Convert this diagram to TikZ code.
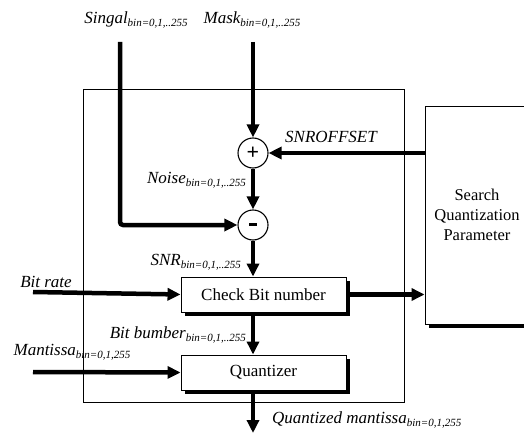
\documentclass[tikz,border=0pt]{standalone}
\usepackage{fontspec}
\setmainfont{Liberation Serif}
\usetikzlibrary{arrows.meta,shadows}
\newcommand{\lbl}[2]{{\fontsize{17}{17}\selectfont\itshape #1\raisebox{-0.35ex}{\fontsize{11}{11}\selectfont\itshape #2}}}
\begin{document}
\begin{tikzpicture}[x=1pt,y=-1pt,
  flow/.style={line width=4.5pt,-{Triangle[length=13pt,width=12pt]}},
  frame/.style={draw,line width=0.9pt},
  blockbox/.style={draw,fill=white,line width=0.9pt,font=\fontsize{17}{17}\selectfont,
    drop shadow={shadow xshift=3.5pt,shadow yshift=-3.5pt,opacity=1,fill=black}},
  sumnode/.style={circle,draw,fill=white,line width=1.1pt,minimum size=30pt,inner sep=0pt},
  lab/.style={inner sep=0pt}]
\useasboundingbox (0,0) rectangle (524,433);
% outer frame
\node[frame,minimum width=321pt,minimum height=313pt,inner sep=0pt] (outer) at (243.5,245.5) {};
% search box
\node[blockbox,minimum width=104pt,minimum height=218pt,inner sep=0pt,align=center,
  font=\fontsize{16.5}{20}\selectfont] (search) at (477,215) {Search\\Quantization\\Parameter};
% blocks
\node[blockbox,minimum width=165pt,minimum height=35pt,inner sep=0pt] (check) at (263.5,294.5) {Check Bit number};
\node[blockbox,minimum width=165pt,minimum height=35pt,inner sep=0pt] (quant) at (263.5,372.5) {Quantizer};
% sum nodes
\node[sumnode] (plus) at (253,153) {\fontsize{22}{22}\selectfont\bfseries +};
\node[sumnode] (minus) at (253,225) {\rule[0.4ex]{8pt}{3pt}};
% coordinates
\coordinate (sigtop) at (120,42);
\coordinate (masktop) at (253,42);
\coordinate (brin) at (33,292);
\coordinate (mantin) at (33,372);
\coordinate (qout) at (253,433);
% connectors
\draw[flow,rounded corners=3pt] (sigtop) |- (minus.west);
\draw[flow] (masktop) -- (plus.north);
\draw[flow] (plus.south) -- (minus.north);
\draw[flow] (minus.south) -- (minus.south |- check.north);
\draw[flow] (plus -| search.west) -- (plus.east);
\draw[flow] (brin) -- (check.west);
\draw[flow] (check.east) -- (check.east -| search.west);
\draw[flow] (minus.south |- check.south) -- (minus.south |- quant.north);
\draw[flow] (mantin) -- (quant.west);
\draw[flow] (minus.south |- quant.south) -- (qout);
% labels
\node[lab] (lsig) at (136,20) {\lbl{Singal}{bin=0,1,..255}};
\node[lab] (lmask) at (252,20) {\lbl{Mask}{bin=0,1,..255}};
\node[lab] (lsnro) at (331,138) {\lbl{SNROFFSET}{}};
\node[lab,anchor=east] (lnoise) at (246,180) {\lbl{Noise}{bin=0,1,..255}};
\node[lab,anchor=east] (lsnr) at (241,262) {\lbl{SNR}{bin=0,1,..255}};
\node[lab] (lbr) at (46,283) {\lbl{Bit rate}{}};
\node[lab,anchor=east] (lbb) at (246,335) {\lbl{Bit bumber}{bin=0,1,..255}};
\node[lab] (lmant) at (72,352) {\lbl{Mantissa}{bin=0,1,255}};
\node[lab,anchor=west] (lqm) at (272,420) {\lbl{Quantized mantissa}{bin=0,1,255}};
\end{tikzpicture}
\end{document}
